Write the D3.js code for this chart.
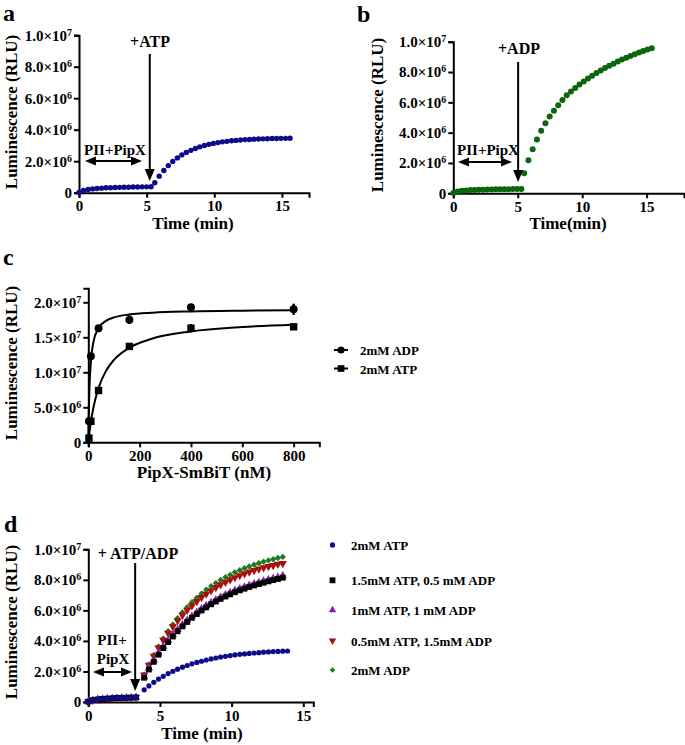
<!DOCTYPE html>
<html><head><meta charset="utf-8">
<script src="https://cdn.jsdelivr.net/npm/d3@7"></script>
<style>
html,body{margin:0;padding:0;background:#fff;}
svg text{font-family:"Liberation Serif","Times New Roman",serif;font-weight:bold;fill:#000;}
</style></head><body>
<svg id="chart" width="685" height="745"></svg>
<script>
// ---------------- DATA ----------------
// Panel a (+ATP), luminescence in units of 1e6 RLU
const aTime = [0,0.33,0.67,1,1.33,1.67,2,2.33,2.67,3,3.33,3.67,4,4.33,4.67,5,5.33,
  5.6,5.93,6.27,6.6,6.93,7.27,7.6,7.93,8.27,8.6,8.93,9.27,9.6,9.93,10.27,10.6,10.93,11.27,11.6,11.93,
  12.27,12.6,12.93,13.27,13.6,13.93,14.27,14.6,14.93,15.27,15.6];
const aLum = [0.02,0.14,0.2,0.24,0.27,0.29,0.31,0.32,0.33,0.34,0.35,0.35,0.36,0.36,0.37,0.37,0.38,
  0.63,1.05,1.41,1.72,1.98,2.21,2.40,2.56,2.69,2.81,2.91,3.00,3.07,3.13,3.18,3.23,3.26,3.30,3.32,3.35,
  3.37,3.38,3.40,3.41,3.42,3.43,3.44,3.44,3.45,3.45,3.46];

// Panel b (+ADP)
const bTime = [0,0.33,0.66,0.99,1.32,1.65,1.98,2.31,2.64,2.97,3.3,3.63,3.96,4.29,4.62,4.95,5.28,
  5.5,5.83,6.16,6.49,6.82,7.15,7.48,7.81,8.14,8.47,8.8,9.13,9.46,9.79,10.12,10.45,10.78,11.11,11.44,11.77,
  12.1,12.43,12.76,13.09,13.42,13.75,14.08,14.41,14.74,15.07,15.4];
const bLum = [0.02,0.12,0.16,0.19,0.21,0.22,0.23,0.24,0.25,0.25,0.26,0.26,0.27,0.27,0.28,0.28,0.29,
  1.32,2.18,2.90,3.55,4.12,4.62,5.06,5.45,5.80,6.15,6.46,6.72,6.95,7.17,7.37,7.57,7.75,7.93,8.10,8.26,
  8.41,8.55,8.69,8.82,8.94,9.06,9.17,9.28,9.38,9.48,9.57];

// Panel c (PipX-SmBiT titration), units of 1e6 RLU
const cConc = [2.5,10,40,160,400,800];
const cADP = [3.0,12.3,16.3,17.5,19.3,19.0];
const cADPerr = [0.2,0.3,0.3,0.6,0.3,0.8];
const cATP = [0.6,3.0,7.4,13.7,16.3,16.5];
const cATPerr = [0.3,0.2,0.4,0.2,0.6,0.35];
const cFitX = [0,1,2.5,5,10,20,40,70,100,160,250,400,600,800];
const cFitADP = [0,2.53,5.28,8.26,11.52,14.34,16.34,17.39,17.84,18.26,18.52,18.70,18.80,18.85];
const cFitATP = [0,0.34,0.82,1.57,2.89,4.97,7.78,10.27,11.78,13.51,14.82,15.84,16.47,16.81];
const cLegend = ["2mM ADP","2mM ATP"];

// Panel d (mixtures), units of 1e6 RLU
const dTime = [0,0.33,0.67,1,1.33,1.67,2,2.33,2.67,3,3.33,
  3.9,4.23,4.57,4.9,5.23,5.57,5.9,6.23,6.57,6.9,7.23,7.57,7.9,8.23,8.57,8.9,9.23,9.57,9.9,
  10.23,10.57,10.9,11.23,11.57,11.9,12.23,12.57,12.9,13.23,13.57,13.9];
const dATP2 = [0.02,0.12,0.17,0.2,0.22,0.24,0.26,0.27,0.28,0.29,0.30,
  0.80,1.05,1.29,1.50,1.68,1.86,2.01,2.15,2.28,2.39,2.50,2.59,2.67,2.75,2.82,2.88,2.94,2.99,3.04,
  3.08,3.12,3.15,3.18,3.21,3.23,3.26,3.28,3.30,3.31,3.33,3.34];
const dMix15 = [0.02,0.12,0.17,0.2,0.22,0.24,0.26,0.27,0.28,0.29,0.30,
  1.59,2.13,2.63,3.10,3.53,3.92,4.29,4.63,4.95,5.24,5.51,5.76,5.99,6.20,6.40,6.58,6.75,6.91,7.05,
  7.19,7.31,7.42,7.53,7.63,7.72,7.81,7.90,7.98,8.06,8.14];
const dMix10 = [0.02,0.12,0.17,0.2,0.22,0.24,0.26,0.27,0.28,0.29,0.30,
  1.65,2.22,2.73,3.20,3.63,4.03,4.40,4.74,5.06,5.35,5.62,5.87,6.10,6.31,6.51,6.69,6.86,7.02,7.16,
  7.30,7.42,7.53,7.64,7.74,7.83,7.92,8.01,8.09,8.17,8.26];
const dMix05 = [0.02,0.12,0.17,0.2,0.22,0.24,0.26,0.27,0.28,0.29,0.30,
  1.77,2.41,3.00,3.55,4.05,4.51,4.93,5.32,5.68,6.01,6.31,6.59,6.85,7.08,7.30,7.50,7.68,7.85,8.01,
  8.15,8.28,8.40,8.52,8.62,8.71,8.80,8.88,8.95,9.02,9.08];
const dADP2 = [0.02,0.12,0.17,0.2,0.22,0.24,0.26,0.27,0.28,0.29,0.30,
  1.80,2.46,3.08,3.64,4.16,4.64,5.08,5.49,5.87,6.21,6.53,6.82,7.10,7.35,7.58,7.79,7.99,8.17,8.33,
  8.49,8.63,8.76,8.88,8.99,9.09,9.19,9.27,9.35,9.43,9.50];
const dLegend = ["2mM ATP","1.5mM ATP, 0.5 mM ADP","1mM ATP, 1 mM ADP","0.5mM ATP, 1.5mM ADP","2mM ADP"];

const timeTicks = [0,5,10,15];
const lumTicks = [0,2e6,4e6,6e6,8e6,1e7];
const concTicks = [0,200,400,600,800];
const lumTicksC = [0,5e6,1e7,1.5e7,2e7];

// ---------------- DRAWING ----------------
const svg = d3.select("#chart");
const M = 1e6;
const BLUE = "#0b0b8c", GREEN = "#0c650c", BLACK = "#000", PURPLE = "#8a1ea8", RED = "#a80f0f", GREEN2 = "#1d7a1d";

function sciLabel(sel) {
  sel.each(function(v) {
    const t = d3.select(this).text(null);
    if (v === 0) { t.append("tspan").text("0"); return; }
    const e = Math.floor(Math.log10(v) + 1e-9);
    const m = v / Math.pow(10, e);
    t.append("tspan").text(m.toFixed(1) + "×10");
    t.append("tspan").attr("dy", "-0.5em").attr("font-size", "10px").text(String(e));
  });
}

function axes(x, y, xt, yt) {
  const gx = svg.append("g").attr("transform", `translate(0,${y.range()[0]})`)
    .call(d3.axisBottom(x).tickValues(xt).tickSizeOuter(0).tickSize(5).tickPadding(3).tickFormat(d3.format("d")));
  const gy = svg.append("g").attr("transform", `translate(${x.range()[0]},0)`)
    .call(d3.axisLeft(y).tickValues(yt).tickSizeOuter(0).tickSize(5).tickPadding(2));
  gy.selectAll(".tick text").call(sciLabel);
  [gx, gy].forEach(g => {
    g.attr("font-family", null);
    g.select(".domain").attr("stroke", "#000").attr("stroke-width", 2);
    g.selectAll(".tick line").attr("stroke", "#000").attr("stroke-width", 2);
    g.selectAll(".tick text").attr("font-size", "15px").attr("fill", "#000");
  });
}

function yTitle(xpos, ycenter, txt) {
  svg.append("text").attr("transform", `translate(${xpos},${ycenter}) rotate(-90)`)
    .attr("text-anchor", "middle").attr("font-size", "17px").text(txt);
}
function xTitle(xcenter, ypos, txt) {
  svg.append("text").attr("x", xcenter).attr("y", ypos).attr("text-anchor", "middle")
    .attr("font-size", "17px").text(txt);
}
function label(x, y, txt, size, anchor) {
  svg.append("text").attr("x", x).attr("y", y).attr("font-size", size + "px")
    .attr("text-anchor", anchor || "start").text(txt);
}
function vArrow(x, y1, y2) {
  svg.append("line").attr("x1", x).attr("x2", x).attr("y1", y1).attr("y2", y2 - 9)
    .attr("stroke", "#000").attr("stroke-width", 2);
  svg.append("path").attr("d", `M${x - 5},${y2 - 12}L${x + 5},${y2 - 12}L${x},${y2}Z`).attr("fill", "#000");
}
function hArrow(x1, x2, y) {
  svg.append("line").attr("x1", x1 + 8).attr("x2", x2 - 8).attr("y1", y).attr("y2", y)
    .attr("stroke", "#000").attr("stroke-width", 2);
  svg.append("path").attr("d", `M${x1},${y}L${x1 + 11},${y - 4.5}L${x1 + 11},${y + 4.5}Z`).attr("fill", "#000");
  svg.append("path").attr("d", `M${x2},${y}L${x2 - 11},${y - 4.5}L${x2 - 11},${y + 4.5}Z`).attr("fill", "#000");
}
function dots(x, y, xs, ys, color, r) {
  svg.append("g").selectAll("circle").data(ys).join("circle")
    .attr("cx", (d, i) => x(xs[i])).attr("cy", d => y(d * M)).attr("r", r).attr("fill", color);
}
function symbols(x, y, xs, ys, type, size, color, rot) {
  const sym = d3.symbol().type(type).size(size);
  svg.append("g").selectAll("path").data(ys).join("path")
    .attr("d", sym).attr("fill", color)
    .attr("transform", (d, i) => `translate(${x(xs[i])},${y(d * M)}) rotate(${rot || 0})`);
}

// Panel letters
label(3, 21, "a", 24); label(357, 22, "b", 24); label(3, 265, "c", 24); label(4, 532, "d", 24);

// ----- Panel a -----
const ax = d3.scaleLinear().domain([0, 17]).range([79, 309]);
const ay = d3.scaleLinear().domain([0, 1e7]).range([192.7, 35.2]);
axes(ax, ay, timeTicks, lumTicks);
dots(ax, ay, aTime, aLum, BLUE, 2.7);
yTitle(17, 112, "Luminescence (RLU)");
xTitle(193, 229, "Time (min)");
label(150, 47, "+ATP", 16, "middle");
vArrow(ax(5.23), 54, 181);
label(115, 155, "PII+PipX", 15, "middle");
hArrow(85, 142, 161);

// ----- Panel b -----
const bx = d3.scaleLinear().domain([0, 17.9]).range([453.3, 684]);
const by = d3.scaleLinear().domain([0, 1e7]).range([193.3, 41.7]);
axes(bx, by, timeTicks, lumTicks);
dots(bx, by, bTime, bLum, GREEN, 3);
yTitle(383, 115, "Luminescence (RLU)");
xTitle(568, 229, "Time(min)");
label(519, 54, "+ADP", 16, "middle");
vArrow(bx(5.03), 62, 182);
label(488, 155, "PII+PipX", 15, "middle");
hArrow(458, 512, 162);

// ----- Panel c -----
const cx = d3.scaleLinear().domain([0, 900]).range([88.3, 319.3]);
const cy = d3.scaleLinear().domain([0, 2.2e7]).range([442.3, 288.3]);
axes(cx, cy, concTicks, lumTicksC);
const fitLine = d3.line().x((d, i) => cx(cFitX[i])).y(d => cy(d * M)).curve(d3.curveMonotoneX);
svg.append("path").attr("d", fitLine(cFitADP)).attr("fill", "none").attr("stroke", "#000").attr("stroke-width", 2);
svg.append("path").attr("d", fitLine(cFitATP)).attr("fill", "none").attr("stroke", "#000").attr("stroke-width", 2);
function errBars(vals, errs) {
  const g = svg.append("g");
  vals.forEach((v, i) => {
    const xx = cx(cConc[i]);
    g.append("line").attr("x1", xx).attr("x2", xx).attr("y1", cy((v - errs[i]) * M)).attr("y2", cy((v + errs[i]) * M))
      .attr("stroke", "#000").attr("stroke-width", 2.5);
  });
}
errBars(cADP, cADPerr); errBars(cATP, cATPerr);
symbols(cx, cy, cConc, cADP, d3.symbolCircle, 50, "#000");
symbols(cx, cy, cConc, cATP, d3.symbolSquare, 55, "#000");
yTitle(17, 363, "Luminescence (RLU)");
xTitle(204, 478, "PipX-SmBiT (nM)");
// legend c
[[d3.symbolCircle, 350], [d3.symbolSquare, 368.5]].forEach(([t, yy], i) => {
  svg.append("line").attr("x1", 334).attr("x2", 348).attr("y1", yy).attr("y2", yy).attr("stroke", "#000").attr("stroke-width", 2);
  svg.append("path").attr("d", d3.symbol().type(t).size(i ? 45 : 40)).attr("transform", `translate(341,${yy})`);
  label(360, yy + 5, cLegend[i], 13);
});

// ----- Panel d -----
const dx = d3.scaleLinear().domain([0, 15.7]).range([88.3, 313.3]);
const dy = d3.scaleLinear().domain([0, 1e7]).range([702, 549.3]);
axes(dx, dy, timeTicks, lumTicks);
symbols(dx, dy, dTime, dADP2, d3.symbolSquare, 20, GREEN2, 45);
symbols(dx, dy, dTime, dMix05, d3.symbolTriangle, 30, RED, 180);
symbols(dx, dy, dTime, dMix10, d3.symbolTriangle, 30, PURPLE, 0);
symbols(dx, dy, dTime, dMix15, d3.symbolSquare, 34, BLACK, 0);
dots(dx, dy, dTime, dATP2, BLUE, 2.6);
yTitle(17, 622, "Luminescence (RLU)");
xTitle(202, 739, "Time (min)");
label(138, 559, "+ ATP/ADP", 16, "middle");
vArrow(dx(3.27), 563, 691);
label(112, 645, "PII+", 15, "middle");
label(113, 664, "PipX", 15, "middle");
hArrow(93, 132, 672);
// legend d
const legY = [545, 580.3, 610, 640.7, 670];
const legSym = [[d3.symbolCircle, 22, BLUE, 0], [d3.symbolSquare, 34, BLACK, 0], [d3.symbolTriangle, 24, PURPLE, 0],
                [d3.symbolTriangle, 24, RED, 180], [d3.symbolSquare, 16, GREEN2, 45]];
dLegend.forEach((txt, i) => {
  const [t, s, col, rot] = legSym[i];
  svg.append("path").attr("d", d3.symbol().type(t).size(s)).attr("fill", col)
    .attr("transform", `translate(332.5,${legY[i]}) rotate(${rot})`);
  label(351, legY[i] + 5, txt, 13);
});
</script>
</body></html>
